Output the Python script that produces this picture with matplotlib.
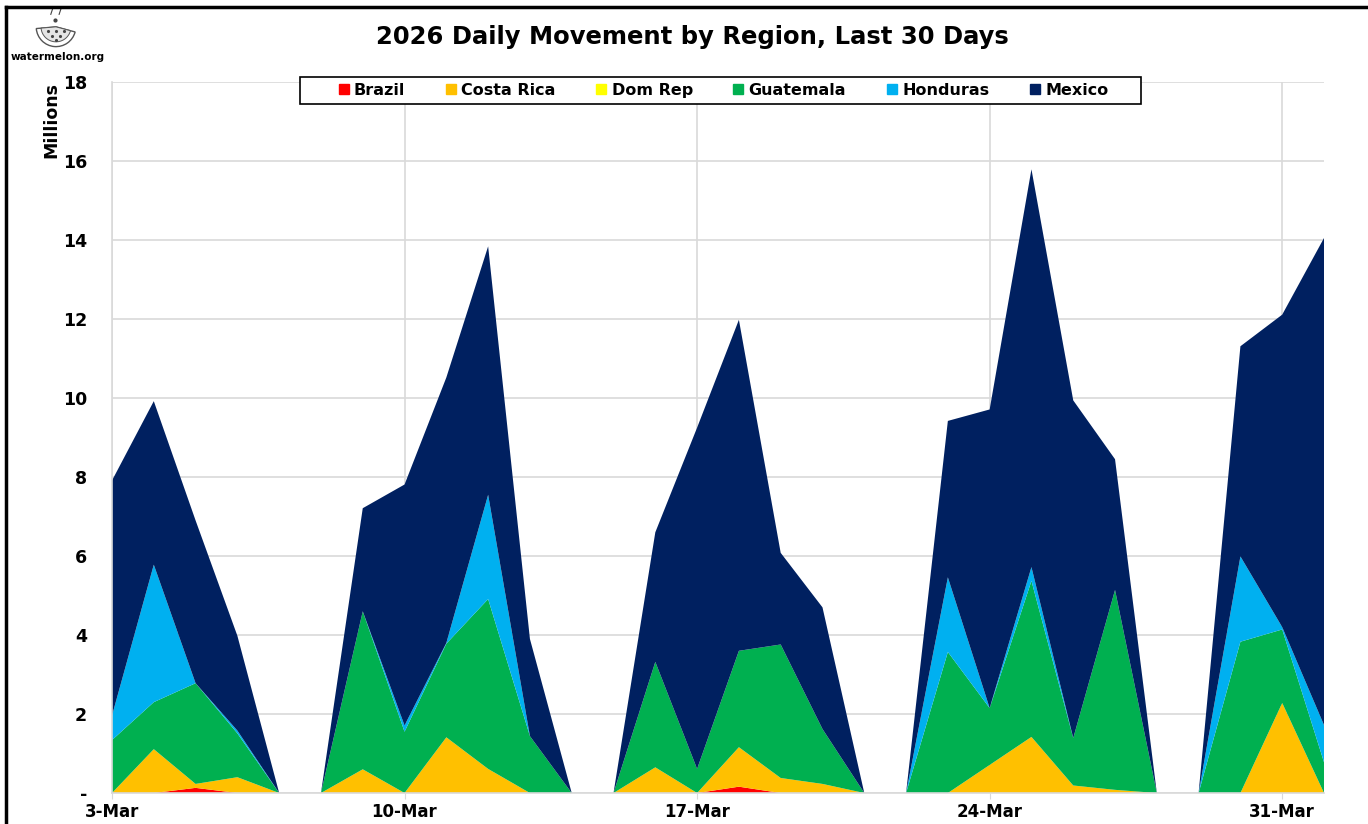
import numpy as np
import matplotlib
matplotlib.use("Agg")
import matplotlib.pyplot as plt
from matplotlib.patches import Wedge, Rectangle
from matplotlib.lines import Line2D

# 3-Mar .. 1-Apr, millions
days = ["3-Mar", "4-Mar", "5-Mar", "6-Mar", "7-Mar", "8-Mar", "9-Mar", "10-Mar",
        "11-Mar", "12-Mar", "13-Mar", "14-Mar", "15-Mar", "16-Mar", "17-Mar",
        "18-Mar", "19-Mar", "20-Mar", "21-Mar", "22-Mar", "23-Mar", "24-Mar",
        "25-Mar", "26-Mar", "27-Mar", "28-Mar", "29-Mar", "30-Mar", "31-Mar", "1-Apr"]

brazil = [0, 0, 0.13, 0, 0, 0, 0, 0, 0, 0, 0, 0, 0, 0, 0,
          0.16, 0, 0, 0, 0, 0, 0, 0, 0, 0, 0, 0, 0, 0, 0]
costa_rica = [0, 1.11, 0.10, 0.40, 0, 0, 0.60, 0, 1.41, 0.61, 0, 0, 0, 0.65, 0,
              1.00, 0.38, 0.23, 0, 0, 0, 0.71, 1.42, 0.19, 0.08, 0, 0, 0, 2.28, 0]
dom_rep = [0] * 30
guatemala = [1.34, 1.19, 2.55, 1.11, 0, 0, 4.00, 1.55, 2.37, 4.30, 1.44, 0, 0, 2.67, 0.61,
             2.44, 3.38, 1.39, 0, 0, 3.57, 1.44, 3.95, 1.20, 5.06, 0, 0, 3.83, 1.86, 0.78]
honduras = [0.62, 3.48, 0, 0.07, 0, 0, 0, 0.16, 0.02, 2.64, 0, 0, 0, 0, 0,
            0, 0, 0, 0, 0, 1.89, 0, 0.35, 0, 0, 0, 0, 2.16, 0.06, 0.94]
mexico = [5.95, 4.14, 4.12, 2.40, 0, 0, 2.61, 6.10, 6.72, 6.29, 2.46, 0, 0, 3.28, 8.64,
          8.38, 2.32, 3.08, 0, 0, 3.96, 7.56, 10.07, 8.55, 3.31, 0, 0, 5.32, 7.91, 12.33]

names = ["Brazil", "Costa Rica", "Dom Rep", "Guatemala", "Honduras", "Mexico"]
colors = ["#FF0000", "#FFC000", "#FFFF00", "#00B050", "#00B0F0", "#002060"]

plt.rcParams['font.family'] = ['DejaVu Sans']
plt.rcParams['font.weight'] = 'bold'

fig = plt.figure(figsize=(13.68, 8.24), dpi=100)
W, H = 1368, 824
ax = fig.add_axes([112 / W, 1 - 793 / H, (1324 - 112) / W, (793 - 82) / H])

x = np.arange(len(days))
ax.stackplot(x, brazil, costa_rica, dom_rep, guatemala, honduras, mexico,
             colors=colors, labels=names, linewidth=0, zorder=2)

ax.set_xlim(0, len(days) - 1)
ax.set_ylim(0, 18)
ax.set_yticks(np.arange(0, 19, 2))
ax.set_yticklabels(["-"] + [str(v) for v in range(2, 19, 2)])
xt = [0, 7, 14, 21, 28]
ax.set_xticks(xt)
ax.set_xticklabels([days[i] for i in xt])
ax.tick_params(axis='y', length=0, pad=18, labelsize=12.5)
ax.tick_params(axis='x', length=4, color='#D9D9D9', pad=3, labelsize=12)
for lab in ax.get_xticklabels() + ax.get_yticklabels():
    lab.set_fontweight('bold')

ax.grid(True, color='#D9D9D9', linewidth=1.2, zorder=0)
ax.set_axisbelow(True)
for s in ['top', 'right']:
    ax.spines[s].set_visible(False)
for s in ['left', 'bottom']:
    ax.spines[s].set_color('#D9D9D9')
    ax.spines[s].set_linewidth(1.2)

# legend box drawn separately so the inner padding matches
box = Rectangle((300 / W, 1 - 104 / H), (1141 - 300) / W, 27 / H,
                transform=fig.transFigure, facecolor='white', edgecolor='black',
                linewidth=1.2, zorder=5)
fig.add_artist(box)
handles = [Line2D([], [], marker='s', linestyle='none', markersize=7,
                  markerfacecolor=c, markeredgecolor=c) for c in colors]
leg = fig.legend(handles, names, loc='center', ncol=6, frameon=False,
                 handletextpad=0.15, columnspacing=2.35, borderpad=0,
                 handlelength=1.0, prop={'weight': 'bold', 'size': 11.5},
                 bbox_to_anchor=(722 / W, 1 - 90.5 / H))
leg.set_zorder(6)

fig.text(692 / W, 1 - 37 / H, "2026 Daily Movement by Region, Last 30 Days",
         ha='center', va='center', fontsize=17.5, fontweight='bold')
fig.text(51 / W, 1 - 120 / H, "Millions", rotation=90, ha='center', va='center',
         fontsize=12.5, fontweight='bold')

# logo
fig.text(58 / W, 1 - 57 / H, "watermelon.org", ha='center', va='center',
         fontsize=7.5, fontweight='bold')
lax = fig.add_axes([31 / W, 1 - 56 / H, 50 / W, 50 / H])
lax.set_xlim(-1.2, 1.2)
lax.set_ylim(-1.2, 1.2)
lax.set_aspect('equal')
lax.axis('off')
lax.add_patch(Wedge((0, 0.2), 0.95, 185, 345, facecolor='white',
                    edgecolor='#555555', linewidth=1))
lax.add_patch(Wedge((0, 0.2), 0.72, 185, 345, facecolor='#E4E4E4',
                    edgecolor='#555555', linewidth=0.7))
for px, py in [(-0.4, 0.0), (0, 0.0), (0.4, 0.0), (-0.2, -0.25), (0.2, -0.25), (0, -0.45)]:
    lax.plot(px, py, marker='.', color='#444444', markersize=2.5)
lax.plot([-0.25, -0.15], [0.8, 1.1], color='#444444', linewidth=0.8)
lax.plot([0.15, 0.25], [0.8, 1.1], color='#444444', linewidth=0.8)
lax.plot(-0.05, 0.55, marker='o', color='#444444', markersize=2)

# page frame (left and top edges)
fig.add_artist(Line2D([6 / W, 6 / W], [0, 1 - 7 / H], color='black', linewidth=2.5))
fig.add_artist(Line2D([6 / W, 1], [1 - 7 / H, 1 - 7 / H], color='black', linewidth=2.5))

fig.savefig("out.png", dpi=100, facecolor='white')
